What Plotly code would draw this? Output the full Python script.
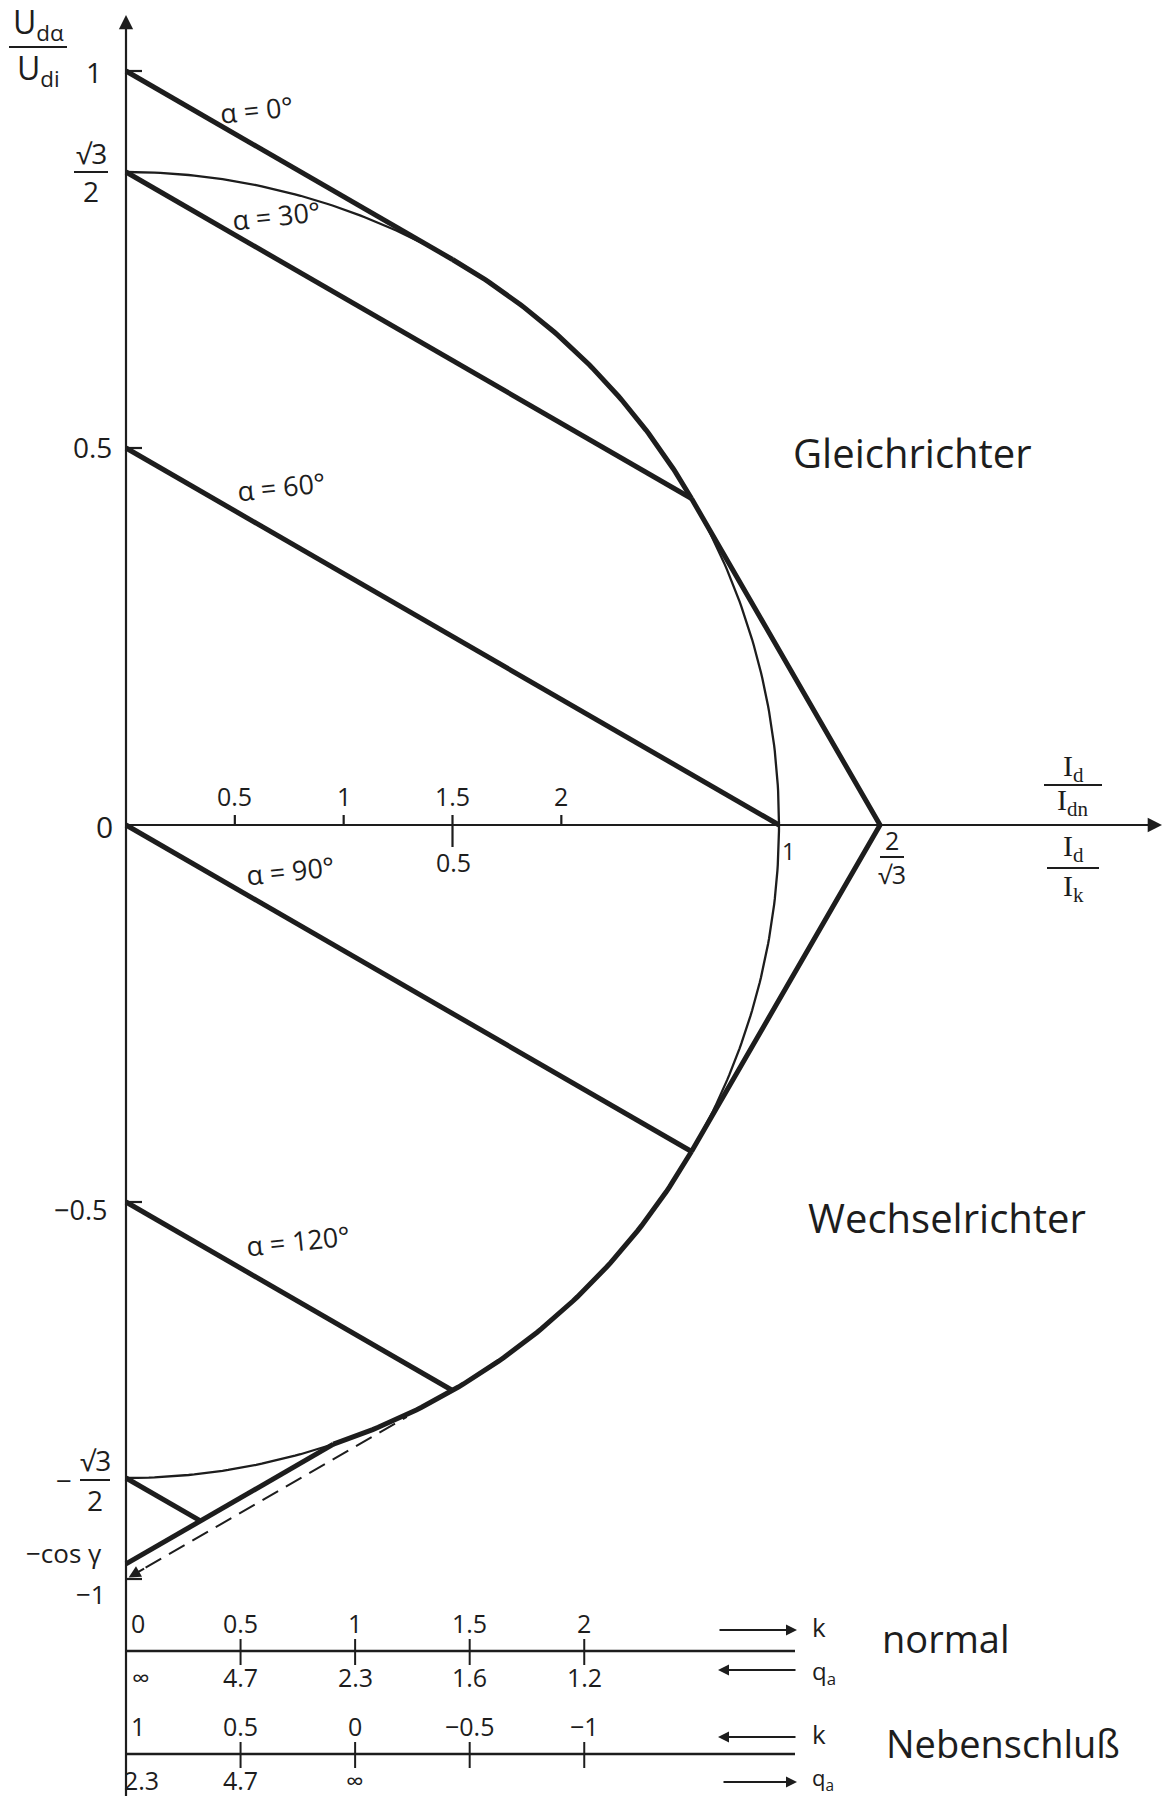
import math
import numpy as np
import plotly.graph_objects as go

# canvas and drawing scale (pixels per unit on both axes)
W, H = 1164, 1796
ORIGIN_PX = (126, 825)
UNIT_X, UNIT_Y = 653, 754

INK = "#1d1d1d"
FONT = "Open Sans"
SERIF = "Liberation Serif"

# ---------------------------------------------------------------- data
alpha_deg = [0, 30, 60, 90, 120, 150]
alpha_labels = ["α = 0°", "α = 30°", "α = 60°", "α = 90°", "α = 120°"]
overlap_limit_deg = 60          # u = 60°: end of 2-3 commutation
cos_gamma = 0.98                # extinction-angle limit of the inverter
ik_over_idn = 3.0               # I_k / I_dn
id_idn_ticks = [0.5, 1, 1.5, 2]
id_idn_labels = ["0.5", "1", "1.5", "2"]
k_ticks = [0, 0.5, 1, 1.5, 2]
k_normal_labels = ["0", "0.5", "1", "1.5", "2"]
qa_normal_labels = ["∞", "4.7", "2.3", "1.6", "1.2"]
k_shunt_labels = ["1", "0.5", "0", "−0.5", "−1"]
qa_shunt_labels = ["2.3", "4.7", "∞"]
k_per_unit = 2.85               # k-scale: k units per I_d/I_k unit


def xd(px):
    return (px - ORIGIN_PX[0]) / UNIT_X


def yd(py):
    return (ORIGIN_PX[1] - py) / UNIT_Y


half_u = math.radians(overlap_limit_deg / 2)
gamma = math.degrees(math.acos(cos_gamma))


def limit_curve(phi_deg):
    """Commutation limit: x = I_d/I_k, y = U_d/U_di for phi = alpha + u/2."""
    p = np.radians(phi_deg)
    return 2 * math.sin(half_u) * np.sin(p), math.cos(half_u) * np.cos(p)


fig = go.Figure()


def line(xs, ys, width, dash="solid"):
    fig.add_trace(go.Scatter(x=list(xs), y=list(ys), mode="lines",
                             line=dict(color=INK, width=width, dash=dash),
                             hoverinfo="skip", showlegend=False))


# thin limit ellipse from +sqrt(3)/2 to -sqrt(3)/2
phi_all = np.linspace(0, 180, 361)
lx, ly = limit_curve(phi_all)
line(lx, ly, 2.3)

# thick parts of the limit curve (working boundary)
phi_g = 180 - overlap_limit_deg / 2 + gamma
for a, b in [(30, 60), (120, phi_g)]:
    seg_phi = np.linspace(a, b, 80)
    sx, sy = limit_curve(seg_phi)
    line(sx, sy, 5)

# control characteristics U_d/U_di = cos(alpha) - 1/2 * I_d/I_k
for a in alpha_deg:
    ca = math.cos(math.radians(a))
    phi = a + overlap_limit_deg / 2
    if phi <= phi_g:
        x_end = float(limit_curve(phi)[0])
    else:
        x_end = ca + cos_gamma
    line([0, x_end], [ca, ca - x_end / 2], 5)

# 3-3 operation boundary through 2/sqrt(3)
corner = 2 / math.sqrt(3)
p60 = limit_curve(60)
p120 = limit_curve(120)
line([float(p60[0]), corner, float(p120[0])], [float(p60[1]), 0, float(p120[1])], 5)

# extinction-angle limit line starting at -cos(gamma)
gx, gy = limit_curve(phi_g)
line([0, float(gx)], [-cos_gamma, float(gy)], 5)

# tangent for gamma = 0 (dashed)
line([0.03, 0.43], [-1 + 0.015, -1 + 0.215], 2, dash="18px,9px")

annotations = []
shapes = []


def text(px, py, s, size=26, anchor="center", family=FONT, angle=0, yanchor="middle"):
    annotations.append(dict(x=xd(px), y=yd(py), xref="x", yref="y", text=s,
                            showarrow=False, xanchor=anchor, yanchor=yanchor,
                            textangle=angle,
                            font=dict(family=family, size=size, color=INK)))


def seg(x0, y0, x1, y1, width=2.2, xref="x", yref="y"):
    shapes.append(dict(type="line", x0=x0, y0=y0, x1=x1, y1=y1, xref=xref, yref=yref,
                       line=dict(color=INK, width=width)))


def arrow(x_tip, y_tip, x_tail, y_tail, width=2.2, size=1.3):
    annotations.append(dict(x=x_tip, y=y_tip, ax=x_tail, ay=y_tail,
                            xref="x", yref="y", axref="x", ayref="y", text="",
                            showarrow=True, arrowhead=2, arrowsize=size,
                            arrowwidth=width, arrowcolor=INK, standoff=0))


# axes
arrow(xd(1162), 0, 0, 0)
arrow(0, yd(15), 0, yd(H + 5))
# arrowhead of dashed tangent at -1
arrow(0.004, -1 + 0.002, 0.03, -1 + 0.015, width=2, size=1.2)

# y ticks
for v in [1, 0.5, -0.5, -1]:
    seg(0, v, xd(ORIGIN_PX[0] + 16), v)

# x ticks (I_d/I_dn scale above the axis)
for v, lab in zip(id_idn_ticks, id_idn_labels):
    xv = v / ik_over_idn
    y_low = yd(ORIGIN_PX[1] + 22) if v == 1.5 else 0
    seg(xv, y_low, xv, yd(ORIGIN_PX[1] - 10))
    annotations.append(dict(x=xv, y=yd(796), xref="x", yref="y", text=lab,
                            showarrow=False, font=dict(family=FONT, size=25, color=INK)))

# I_d/I_k labels below the axis
text(ORIGIN_PX[0] + 0.5 * UNIT_X + 1, 862, "0.5", size=25)
text(788, 851, "1", size=23)

# fraction helper
def fraction(px, py_bar, num, den, width, size=26, family=FONT, gap=18):
    text(px, py_bar - gap, num, size=size, family=family)
    text(px, py_bar + gap, den, size=size, family=family)
    seg(xd(px - width / 2), yd(py_bar), xd(px + width / 2), yd(py_bar), width=2)


fraction(892, 857, "2", "√3", 24, size=25, gap=17)
fraction(1073, 785, "I<sub>d</sub>", "I<sub>dn</sub>", 58, size=30, family=SERIF, gap=17)
fraction(1073, 868, "I<sub>d</sub>", "I<sub>k</sub>", 52, size=30, family=SERIF, gap=20)

# y-axis labels
fraction(38, 47, "U<sub>dα</sub>", "U<sub>di</sub>", 58, size=32, gap=23)
text(94, 72, "1", size=28)
fraction(91, 172, "√3", "2", 34, size=28, gap=19)
text(114, 447, "0.5", size=28, anchor="right")
text(104, 826, "0", size=30)
text(109, 1209, "−0.5", size=27, anchor="right")
text(64, 1480, "−", size=28)
fraction(95, 1480, "√3", "2", 30, size=28, gap=20)
text(104, 1553, "−cos γ", size=26, anchor="right")
text(108, 1594, "−1", size=26, anchor="right")

# alpha labels
for lab, (px, py) in zip(alpha_labels, [(256, 109), (276, 215), (281, 486), (290, 870), (298, 1240)]):
    text(px, py, lab, size=27, angle=-6)

text(912, 452, "Gleichrichter", size=40)
text(947, 1217, "Wechselrichter", size=40)

# k / q_a scales for normal and shunt operation
scale_rows = [
    (1651, k_normal_labels, qa_normal_labels, "normal", True),
    (1754, k_shunt_labels, qa_shunt_labels, "Nebenschluß", False),
]
for py_line, k_labs, qa_labs, name, k_right in scale_rows:
    y_line = yd(py_line)
    seg(0, y_line, xd(795), y_line, width=2.4)
    for i, kv in enumerate(k_ticks):
        xv = kv / k_per_unit
        if i > 0:
            seg(xv, yd(py_line - 12), xv, yd(py_line + 14), width=2)
        shift = 12 if i == 0 else 0
        annotations.append(dict(x=xv, y=yd(py_line - 28), xref="x", yref="y",
                                text=k_labs[i], showarrow=False, xshift=shift,
                                font=dict(family=FONT, size=25, color=INK)))
        if i < len(qa_labs):
            annotations.append(dict(x=xv, y=yd(py_line + 26), xref="x", yref="y",
                                    text=qa_labs[i], showarrow=False,
                                    xshift=shift + (3 if i == 0 else 0),
                                    font=dict(family=FONT, size=25, color=INK)))
    # direction arrows for k and q_a
    if k_right:
        arrow(xd(797), yd(py_line - 21), xd(718), yd(py_line - 21), width=2, size=1.1)
        arrow(xd(718), yd(py_line + 19), xd(797), yd(py_line + 19), width=2, size=1.1)
        text(810, py_line - 24, "k", size=26, anchor="left")
        text(810, py_line + 21, "q<sub>a</sub>", size=24, anchor="left")
        text(946, py_line - 13, name, size=38)
    else:
        arrow(xd(718), yd(py_line - 17), xd(797), yd(py_line - 17), width=2, size=1.1)
        arrow(xd(797), yd(py_line + 28), xd(722), yd(py_line + 28), width=2, size=1.1)
        text(810, py_line - 20, "k", size=26, anchor="left")
        text(810, py_line + 25, "q<sub>a</sub>", size=22, anchor="left")
        text(1003, py_line - 11, name, size=38)

fig.update_layout(
    width=W, height=H, autosize=False,
    margin=dict(l=0, r=0, t=0, b=0, pad=0),
    paper_bgcolor="white", plot_bgcolor="white",
    xaxis=dict(range=[xd(0), xd(W)], visible=False, fixedrange=True),
    yaxis=dict(range=[yd(H), yd(0)], visible=False, fixedrange=True),
    annotations=annotations, shapes=shapes,
    font=dict(family=FONT, color=INK),
)

fig.write_html("out.html")
